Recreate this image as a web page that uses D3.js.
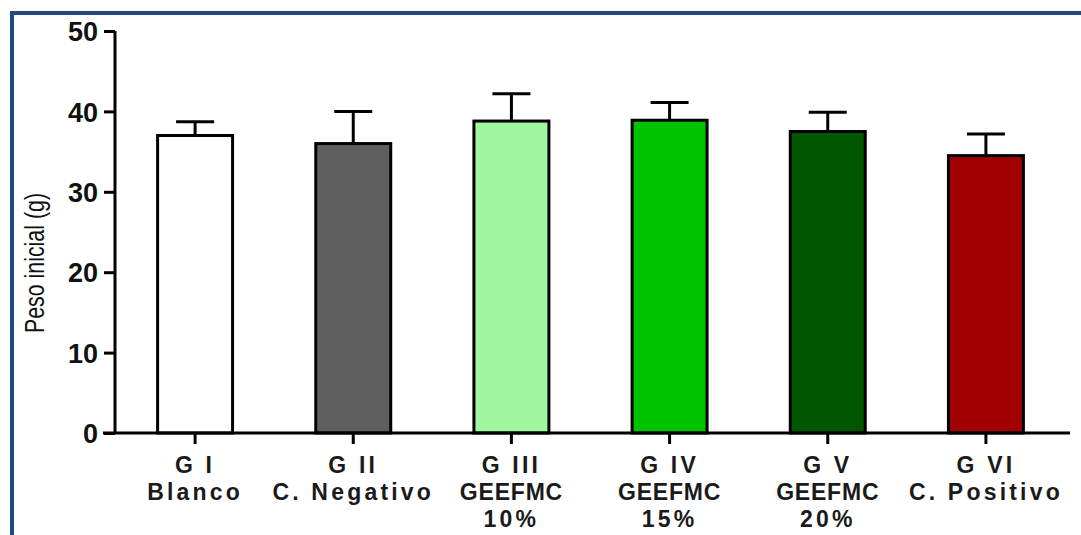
<!DOCTYPE html>
<html>
<head>
<meta charset="utf-8">
<script src="https://cdn.jsdelivr.net/npm/d3@7"></script>
<style>
html,body{margin:0;padding:0;background:#fff;}
svg{display:block;}
</style>
</head>
<body>
<svg id="chart" width="1081" height="535"></svg>
<script>
const groups = ["G I", "G II", "G III", "G IV", "G V", "G VI"];
const labelLine2 = ["Blanco", "C. Negativo", "GEEFMC", "GEEFMC", "GEEFMC", "C. Positivo"];
const labelLine3 = ["", "", "10%", "15%", "20%", ""];
const means = [37.0, 36.0, 38.8, 38.9, 37.5, 34.5];
const errors = [1.7, 4.0, 3.4, 2.2, 2.4, 2.7];
const colors = ["#ffffff", "#5f5f5f", "#a0f7a0", "#00c300", "#005700", "#a20000"];
const yTicks = [0, 10, 20, 30, 40, 50];

const svg = d3.select("#chart");
const font = "'Liberation Sans', Arial, sans-serif";

// frame
svg.append("rect").attr("x", 12).attr("y", 13).attr("width", 1200).attr("height", 700)
  .attr("fill", "none").attr("stroke", "#1f4a7e").attr("stroke-width", 4);

const x = d3.scaleBand().domain(groups).range([116, 1065]).paddingInner(0.526).paddingOuter(0.263);
const y = d3.scaleLinear().domain([0, 50]).range([433, 31]);

// bars
svg.selectAll("rect.bar").data(groups).join("rect").attr("class", "bar")
  .attr("x", d => x(d)).attr("width", x.bandwidth())
  .attr("y", (d, i) => y(means[i])).attr("height", (d, i) => y(0) - y(means[i]))
  .attr("fill", (d, i) => colors[i]).attr("stroke", "#000").attr("stroke-width", 3);

// error bars
const capW = 38;
groups.forEach((g, i) => {
  const cx = x(g) + x.bandwidth() / 2;
  svg.append("line").attr("x1", cx).attr("x2", cx)
    .attr("y1", y(means[i])).attr("y2", y(means[i] + errors[i]))
    .attr("stroke", "#000").attr("stroke-width", 3);
  svg.append("line").attr("x1", cx - capW / 2).attr("x2", cx + capW / 2)
    .attr("y1", y(means[i] + errors[i])).attr("y2", y(means[i] + errors[i]))
    .attr("stroke", "#000").attr("stroke-width", 3);
});

// y axis
const yAxis = svg.append("g").attr("transform", "translate(115,0)")
  .call(d3.axisLeft(y).tickValues(yTicks).tickSize(11).tickPadding(6));
yAxis.select(".domain").attr("stroke", "#000").attr("stroke-width", 3)
  .attr("d", `M0,${y(50)}V${y(0)}`);
yAxis.selectAll(".tick line").attr("stroke", "#000").attr("stroke-width", 3);
yAxis.selectAll(".tick text").attr("font-family", font).attr("font-size", 27)
  .attr("font-weight", "bold").attr("fill", "#111").attr("dy", "0.36em");

// x axis
const xAxis = svg.append("g").attr("transform", `translate(0,${y(0)})`)
  .call(d3.axisBottom(x).tickSize(11).tickFormat(""));
xAxis.select(".domain").attr("stroke", "#000").attr("stroke-width", 3)
  .attr("d", `M103,0H1070`);
xAxis.selectAll(".tick line").attr("stroke", "#000").attr("stroke-width", 3);

// category labels
groups.forEach((g, i) => {
  const cx = x(g) + x.bandwidth() / 2;
  const lines = [g, labelLine2[i], labelLine3[i]];
  lines.forEach((t, j) => {
    if (!t) return;
    svg.append("text").attr("x", cx).attr("y", 473 + j * 27)
      .attr("text-anchor", "middle").attr("font-family", font)
      .attr("font-size", 23).attr("font-weight", "bold")
      .attr("letter-spacing", t === "GEEFMC" ? 0.8 : 3.2)
      .attr("fill", "#1a1a1a").text(t);
  });
});

// y label
svg.append("text").attr("transform", "translate(44,263) rotate(-90)")
  .attr("text-anchor", "middle").attr("font-family", font)
  .attr("font-size", 27).attr("textLength", 140).attr("lengthAdjust", "spacingAndGlyphs")
  .attr("fill", "#111").text("Peso inicial (g)");
</script>
</body>
</html>
